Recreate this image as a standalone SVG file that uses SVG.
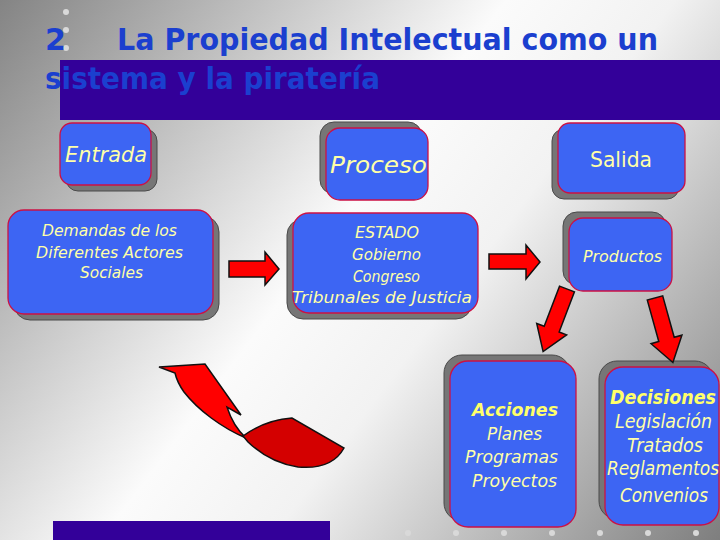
<svg xmlns="http://www.w3.org/2000/svg" width="720" height="540" viewBox="0 0 720 540">
<defs>
<linearGradient id="bg" x1="0" y1="0" x2="720" y2="540" gradientUnits="userSpaceOnUse">
<stop offset="0" stop-color="#848484"/>
<stop offset="0.45" stop-color="#fbfbfb"/>
<stop offset="0.6" stop-color="#f2f2f2"/>
<stop offset="1" stop-color="#7e7e7e"/>
</linearGradient>
<style>
.sh{fill:#767676;stroke:#4a4a4a;stroke-width:1}
.bx{fill:#3d65f3;stroke:#cc1144;stroke-width:1.3}
.t{font-family:"DejaVu Sans","Liberation Sans",sans-serif;font-style:italic;fill:#ffffa8}
.tb{font-family:"DejaVu Sans","Liberation Sans",sans-serif;font-style:italic;font-weight:bold;fill:#ffff6a}
.ttl{font-family:"DejaVu Sans","Liberation Sans",sans-serif;font-weight:bold;fill:#1b3fcf;font-size:30px}
.ar{fill:#ff0000;stroke:#111;stroke-width:1.5;stroke-linejoin:miter}
.dot{fill:#d9d9d9}
</style>
</defs>
<rect width="720" height="540" fill="url(#bg)"/>
<rect x="60" y="60" width="660" height="60" fill="#330099"/>
<rect x="53" y="521" width="277" height="19" fill="#330099"/>
<g id="dots">
<circle class="dot" cx="66" cy="12" r="3"/><circle class="dot" cx="66" cy="30" r="3"/><circle class="dot" cx="66" cy="48" r="3"/>
<circle class="dot" cx="408" cy="533" r="3"/><circle class="dot" cx="456" cy="533" r="3"/><circle class="dot" cx="504" cy="533" r="3"/><circle class="dot" cx="552" cy="533" r="3"/><circle class="dot" cx="600" cy="533" r="3"/><circle class="dot" cx="648" cy="533" r="3"/><circle class="dot" cx="696" cy="533" r="3"/>
</g>
<g id="title">
<text class="ttl" x="45" y="50">2</text>
<text class="ttl" x="117" y="50" textLength="541" lengthAdjust="spacingAndGlyphs">La Propiedad Intelectual como un</text>
<text class="ttl" x="45" y="89" textLength="335" lengthAdjust="spacingAndGlyphs">sistema y la piratería</text>
</g>
<g id="entrada">
<rect class="sh" x="66" y="129" width="91" height="62" rx="12"/>
<rect class="bx" x="60" y="123" width="91" height="62" rx="12"/>
<text class="t" x="65" y="162" font-size="22" textLength="82" lengthAdjust="spacingAndGlyphs">Entrada</text>
</g>
<g id="demandas">
<rect class="sh" x="14" y="216" width="205" height="104" rx="16"/>
<rect class="bx" x="8" y="210" width="205" height="104" rx="16"/>
<text class="t" font-size="15">
<tspan x="42" y="236" textLength="135" lengthAdjust="spacingAndGlyphs">Demandas de los</tspan>
<tspan x="36" y="258" textLength="147" lengthAdjust="spacingAndGlyphs">Diferentes Actores</tspan>
<tspan x="80" y="278" textLength="63" lengthAdjust="spacingAndGlyphs">Sociales</tspan>
</text>
</g>
<g id="proceso">
<rect class="sh" x="320" y="122" width="102" height="72" rx="14"/>
<rect class="bx" x="326" y="128" width="102" height="72" rx="14"/>
<text class="t" x="330" y="173" font-size="23" textLength="97" lengthAdjust="spacingAndGlyphs">Proceso</text>
</g>
<g id="estado">
<rect class="sh" x="287" y="219" width="185" height="100" rx="16"/>
<rect class="bx" x="293" y="213" width="185" height="100" rx="16"/>
<text class="t" font-size="16">
<tspan x="355" y="238" textLength="64" lengthAdjust="spacingAndGlyphs">ESTADO</tspan>
<tspan x="352" y="260" textLength="69" lengthAdjust="spacingAndGlyphs">Gobierno</tspan>
<tspan x="353" y="282" textLength="67" lengthAdjust="spacingAndGlyphs">Congreso</tspan>
<tspan x="292" y="303" textLength="180" lengthAdjust="spacingAndGlyphs">Tribunales de Justicia</tspan>
</text>
</g>
<g id="salida">
<rect class="sh" x="552" y="129" width="127" height="70" rx="12"/>
<rect class="bx" x="558" y="123" width="127" height="70" rx="12"/>
<text x="590" y="167" font-size="21" textLength="62" lengthAdjust="spacingAndGlyphs" font-family="DejaVu Sans, Liberation Sans, sans-serif" fill="#ffffa8">Salida</text>
</g>
<g id="productos">
<rect class="sh" x="563" y="212" width="103" height="73" rx="14"/>
<rect class="bx" x="569" y="218" width="103" height="73" rx="14"/>
<text class="t" x="583" y="262" font-size="16" textLength="79" lengthAdjust="spacingAndGlyphs">Productos</text>
</g>
<g id="acciones">
<rect class="sh" x="444" y="355" width="126" height="166" rx="18"/>
<rect class="bx" x="450" y="361" width="126" height="166" rx="18"/>
<text class="tb" x="472" y="416" font-size="18" textLength="86" lengthAdjust="spacingAndGlyphs">Acciones</text>
<text class="t" font-size="18">
<tspan x="487" y="440" textLength="55" lengthAdjust="spacingAndGlyphs">Planes</tspan>
<tspan x="465" y="463" textLength="93" lengthAdjust="spacingAndGlyphs">Programas</tspan>
<tspan x="472" y="487" textLength="85" lengthAdjust="spacingAndGlyphs">Proyectos</tspan>
</text>
</g>
<g id="decisiones">
<rect class="sh" x="599" y="361" width="114" height="158" rx="18"/>
<rect class="bx" x="605" y="367" width="114" height="158" rx="18"/>
<text class="tb" x="610" y="404" font-size="19" textLength="106" lengthAdjust="spacingAndGlyphs">Decisiones</text>
<text class="t" font-size="19">
<tspan x="615" y="428" textLength="97" lengthAdjust="spacingAndGlyphs">Legislación</tspan>
<tspan x="627" y="452" textLength="76" lengthAdjust="spacingAndGlyphs">Tratados</tspan>
<tspan x="607" y="475" textLength="112" lengthAdjust="spacingAndGlyphs">Reglamentos</tspan>
<tspan x="620" y="502" textLength="88" lengthAdjust="spacingAndGlyphs">Convenios</tspan>
</text>
</g>
<g id="connectors">
<path class="ar" d="M229,261 H265 V252 L279,269 L265,285 V277 H229 Z"/>
<path class="ar" d="M489,254 H526 V245 L540,262 L526,279 V269 H489 Z"/>
<path class="ar" transform="translate(567,289) rotate(110.9)" d="M0,-8 L43,-8 L43,-16 L67,0 L43,16 L43,8 L0,8 Z"/>
<path class="ar" transform="translate(655,298) rotate(74.5)" d="M0,-8 L43,-8 L43,-16 L67,0 L43,16 L43,8 L0,8 Z"/>
<path class="ar" d="M159,367 L205,364 L241,415 L227,407 Q233,426 246,438 C222,428 198,410 184,392 Q177,382 175,373 Z"/>
<path class="ar" style="fill:#d40000" d="M243,436 Q265,420 292,418 L344,448 Q332,470 298,467 Q270,463 248,442 Z"/>
</g>
</svg>
